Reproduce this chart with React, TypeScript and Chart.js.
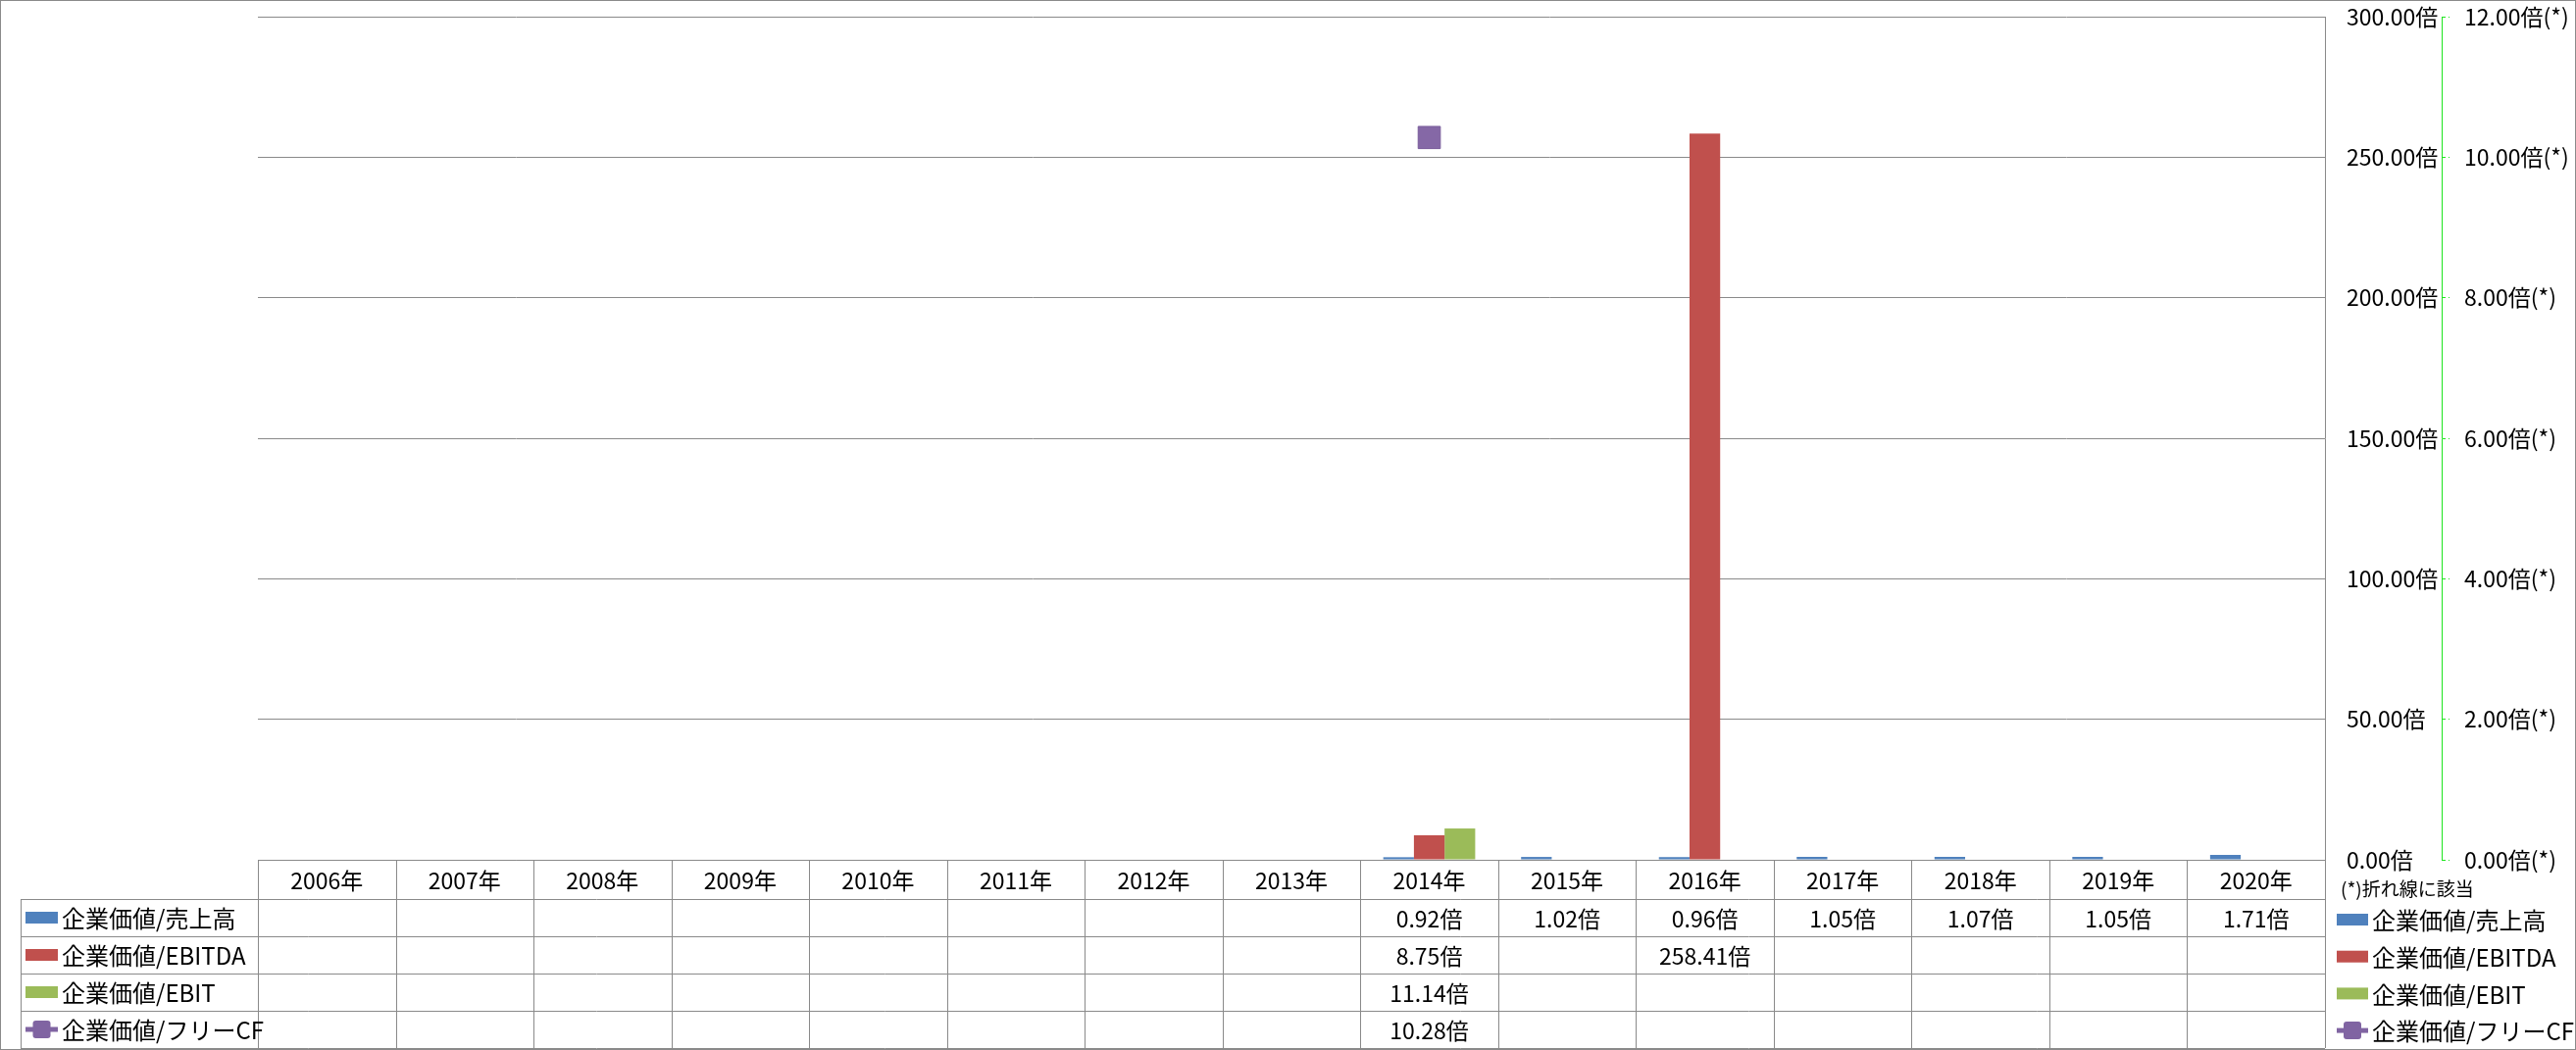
import React, { useEffect, useRef } from 'react';
import { Chart, registerables } from 'chart.js';

Chart.register(...registerables);

// ---------- data ----------
const categories = ['2006年', '2007年', '2008年', '2009年', '2010年', '2011年', '2012年', '2013年', '2014年', '2015年', '2016年', '2017年', '2018年', '2019年', '2020年'];
const evSales = [null, null, null, null, null, null, null, null, 0.92, 1.02, 0.96, 1.05, 1.07, 1.05, 1.71];
const evEbitda = [null, null, null, null, null, null, null, null, 8.75, null, 258.41, null, null, null, null];
const evEbit = [null, null, null, null, null, null, null, null, 11.14, null, null, null, null, null, null];
const evFcf = [null, null, null, null, null, null, null, null, 10.28, null, null, null, null, null, null];
const seriesNames = ['企業価値/売上高', '企業価値/EBITDA', '企業価値/EBIT', '企業価値/フリーCF'];
const seriesColors = ['#4F81BD', '#C0504D', '#9BBB59', '#8064A2'];
const primaryMax = 300;
const primaryStep = 50;
const secondaryMax = 12;
const secondaryStep = 2;
const unitSuffix = '倍';
const secondarySuffix = '倍(*)';
const noteText = '(*)折れ線に該当';

const W = 2627;
const H = 1071;
const FONT = '"Noto Sans CJK JP", "Noto Sans", sans-serif';
const GRID = '#8a8a8a';
const AXIS2 = '#1ee61e';

const tableValues = [evSales, evEbitda, evEbit, evFcf];
const fmt = (v: number) => v.toFixed(2) + unitSuffix;

function drawSwatch(ctx: CanvasRenderingContext2D, idx: number, x: number, yc: number, w: number) {
  const color = seriesColors[idx];
  if (idx < 3) {
    ctx.fillStyle = color;
    ctx.fillRect(x, yc - 6, w, 12);
  } else {
    ctx.strokeStyle = color;
    ctx.lineWidth = 5;
    ctx.beginPath();
    ctx.moveTo(x, yc);
    ctx.lineTo(x + w, yc);
    ctx.stroke();
    ctx.fillStyle = color;
    const s = 18;
    const cx = x + w / 2;
    ctx.beginPath();
    if ((ctx as any).roundRect) {
      (ctx as any).roundRect(cx - s / 2, yc - s / 2, s, s, 3);
    } else {
      ctx.rect(cx - s / 2, yc - s / 2, s, s);
    }
    ctx.fill();
  }
}

const dataTablePlugin = {
  id: 'dataTable',
  afterDraw(chart: any) {
    const { ctx, chartArea, scales } = chart;
    const xs = scales.x;
    const n = categories.length;
    const half = (xs.getPixelForValue(1) - xs.getPixelForValue(0)) / 2;
    const top = Math.round(chartArea.bottom);
    const headerH = 40;
    const rowH = 38;
    const bottom = top + headerH + 4 * rowH;
    const legendLeft = 21;
    const left = Math.round(chartArea.left);
    const right = Math.round(chartArea.right);

    ctx.save();
    ctx.strokeStyle = GRID;
    ctx.lineWidth = 1;
    const line = (x1: number, y1: number, x2: number, y2: number) => {
      ctx.beginPath();
      ctx.moveTo(x1, y1);
      ctx.lineTo(x2, y2);
      ctx.stroke();
    };
    // horizontal lines
    line(left, top + 0.5, right, top + 0.5);
    for (let r = 0; r <= 4; r++) {
      const y = top + headerH + r * rowH;
      line(legendLeft, y + 0.5, right, y + 0.5);
    }
    // vertical lines
    line(legendLeft + 0.5, top + headerH, legendLeft + 0.5, bottom);
    for (let i = 0; i <= n; i++) {
      const x = Math.round(xs.getPixelForValue(i) - half);
      line(x + 0.5, top, x + 0.5, bottom);
    }

    // header text
    ctx.fillStyle = '#000';
    ctx.textBaseline = 'middle';
    ctx.textAlign = 'center';
    ctx.font = `23px ${FONT}`;
    categories.forEach((c, i) => {
      ctx.fillText(c, xs.getPixelForValue(i), top + headerH / 2 + 1);
    });
    // values
    tableValues.forEach((arr, r) => {
      const yc = top + headerH + r * rowH + rowH / 2 + 1;
      arr.forEach((v, i) => {
        if (v !== null && v !== undefined) {
          ctx.fillText(fmt(v as number), xs.getPixelForValue(i), yc);
        }
      });
    });

    // table legend column
    seriesNames.forEach((name, r) => {
      const yc = top + headerH + r * rowH + rowH / 2;
      drawSwatch(ctx, r, 26, yc, 33);
      ctx.fillStyle = '#000';
      ctx.textAlign = 'left';
      ctx.font = `24px ${FONT}`;
      ctx.fillText(name, 63, yc + 1);
    });

    // right legend
    ctx.fillStyle = '#000';
    ctx.textAlign = 'left';
    ctx.font = `19px ${FONT}`;
    ctx.fillText(noteText, 2387, 907);
    seriesNames.forEach((name, r) => {
      const yc = 938 + r * 37.7;
      drawSwatch(ctx, r, 2383, yc, 32);
      ctx.fillStyle = '#000';
      ctx.textAlign = 'left';
      ctx.font = `24px ${FONT}`;
      ctx.fillText(name, 2419, yc + 1);
    });

    // outer border
    ctx.strokeStyle = GRID;
    ctx.lineWidth = 1;
    ctx.strokeRect(0.5, 0.5, W - 1, H - 1);
    ctx.restore();
  },
};

export default function App() {
  const canvasRef = useRef<HTMLCanvasElement | null>(null);

  useEffect(() => {
    const canvas = canvasRef.current;
    if (!canvas) return;
    Chart.defaults.font.family = FONT;
    Chart.defaults.font.size = 23;
    Chart.defaults.color = '#000';

    const chart = new Chart(canvas, {
      type: 'bar',
      data: {
        labels: categories,
        datasets: [
          { label: seriesNames[0], data: evSales as any, backgroundColor: seriesColors[0], borderWidth: 0, yAxisID: 'y', order: 1 },
          { label: seriesNames[1], data: evEbitda as any, backgroundColor: seriesColors[1], borderWidth: 0, yAxisID: 'y', order: 1 },
          { label: seriesNames[2], data: evEbit as any, backgroundColor: seriesColors[2], borderWidth: 0, yAxisID: 'y', order: 1 },
          {
            type: 'line' as any,
            label: seriesNames[3],
            data: evFcf as any,
            yAxisID: 'y1',
            borderColor: seriesColors[3],
            backgroundColor: seriesColors[3],
            borderWidth: 5,
            pointStyle: 'rect',
            pointRadius: 16,
            pointBorderWidth: 1,
            pointBackgroundColor: '#8568a6',
            pointBorderColor: '#7a5e9c',
            order: 0,
          } as any,
        ],
      },
      options: {
        responsive: false,
        animation: false,
        devicePixelRatio: 1,
        layout: { padding: { left: 263, top: 16, right: 0, bottom: 194 } },
        datasets: { bar: { categoryPercentage: 0.667, barPercentage: 1 } } as any,
        plugins: { legend: { display: false }, tooltip: { enabled: false } },
        scales: {
          x: { display: false, offset: true },
          y: {
            position: 'right',
            weight: 0,
            min: 0,
            max: primaryMax,
            ticks: { stepSize: primaryStep, padding: 22, color: '#000', callback: (v: any) => Number(v).toFixed(2) + unitSuffix },
            grid: { color: GRID, drawTicks: false, tickLength: 0 },
            border: { color: GRID },
            afterFit: (s: any) => { s.width = 119; s.paddingTop = 0; s.paddingBottom = 0; },
          },
          y1: {
            position: 'right',
            weight: 1,
            min: 0,
            max: secondaryMax,
            ticks: { stepSize: secondaryStep, padding: 15, color: '#000', callback: (v: any) => Number(v).toFixed(2) + secondarySuffix },
            grid: { drawOnChartArea: false, drawTicks: true, tickLength: 8, color: AXIS2, tickBorderDash: [3, 3] } as any,
            border: { color: AXIS2, dash: [4, 3] },
            afterFit: (s: any) => { s.width = 137; s.paddingTop = 0; s.paddingBottom = 0; },
          },
        } as any,
      },
      plugins: [dataTablePlugin],
    });
    return () => chart.destroy();
  }, []);

  return (
    <div style={{ position: 'fixed', left: 0, top: 0, width: W, height: H, background: '#fff' }}>
      <canvas ref={canvasRef} width={W} height={H} style={{ display: 'block' }} />
    </div>
  );
}
